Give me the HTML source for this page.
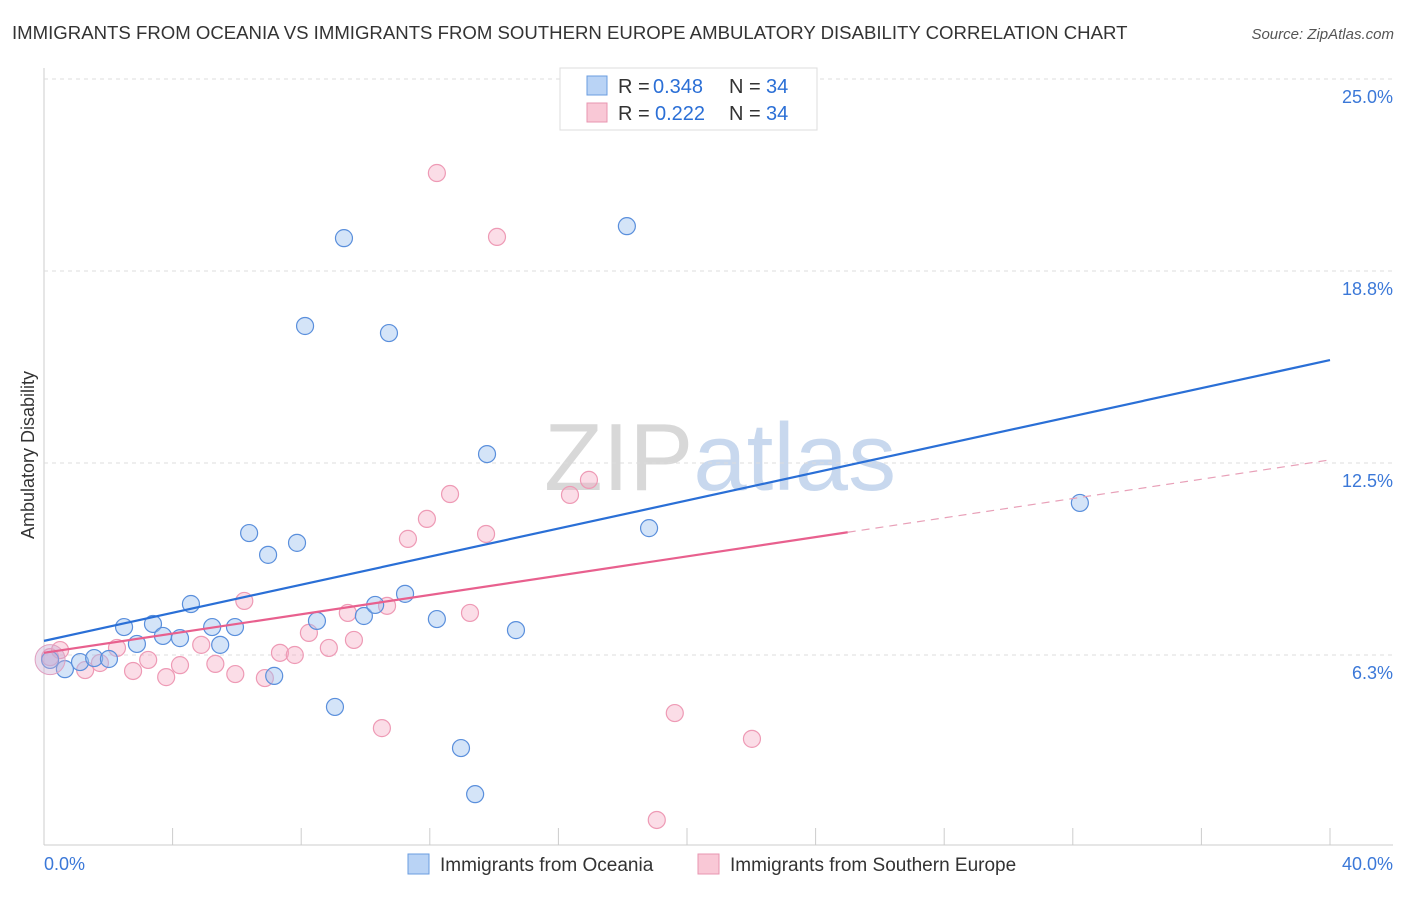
<!DOCTYPE html>
<html><head><meta charset="utf-8"><style>
body{margin:0;background:#fff;font-family:"Liberation Sans",sans-serif;overflow:hidden;}
svg text{font-family:"Liberation Sans",sans-serif;}
</style></head><body>
<svg id="c" width="1406" height="892">
<text x="12" y="39" font-size="18.6" fill="#333">IMMIGRANTS FROM OCEANIA VS IMMIGRANTS FROM SOUTHERN EUROPE AMBULATORY DISABILITY CORRELATION CHART</text>
<text x="1394" y="39" font-size="15" fill="#555" font-style="italic" text-anchor="end">Source: ZipAtlas.com</text>
<text x="720" y="490" font-size="96" fill="#ddd" text-anchor="middle" font-family="Liberation Serif"><tspan fill="#d8d8d8">ZIP</tspan><tspan fill="#c8d8ee" font-family="Liberation Sans">atlas</tspan></text>
<text transform="translate(34,455) rotate(-90)" font-size="18" fill="#333" text-anchor="middle">Ambulatory Disability</text>
<g id="grid"></g><g id="pts"></g><g id="lines"></g>
<g>
<rect x="560" y="68" width="257" height="62" fill="#fff" stroke="#ddd"/>
<rect x="587" y="76" width="20" height="19" fill="#b9d3f5" stroke="#6a9de0"/>
<rect x="587" y="103" width="20" height="19" fill="#f9c8d6" stroke="#e896b0"/>
<text x="618" y="93" font-size="20" fill="#333">R =</text>
<text x="653" y="93" font-size="20" fill="#2b6fd6">0.348</text>
<text x="729" y="93" font-size="20" fill="#333">N =</text>
<text x="766" y="93" font-size="20" fill="#2b6fd6">34</text>
<text x="618" y="120" font-size="20" fill="#333">R =</text>
<text x="655" y="120" font-size="20" fill="#2b6fd6">0.222</text>
<text x="729" y="120" font-size="20" fill="#333">N =</text>
<text x="766" y="120" font-size="20" fill="#2b6fd6">34</text>
</g>
<g>
<rect x="408" y="854" width="21" height="20" fill="#b9d3f5" stroke="#6a9de0"/>
<text x="440" y="871" font-size="19" fill="#333">Immigrants from Oceania</text>
<rect x="698" y="854" width="21" height="20" fill="#f9c8d6" stroke="#e896b0"/>
<text x="730" y="871" font-size="19" fill="#333">Immigrants from Southern Europe</text>
</g>
</svg>
<script>
const yTicks=[6.25,12.5,18.75,25];
const yTickLabels=["6.3%","12.5%","18.8%","25.0%"];
const blueX=[0.19,0.65,1.12,1.56,2.02,2.49,2.89,3.39,3.7,4.23,4.57,5.23,5.48,5.94,6.38,6.97,7.16,7.87,8.12,8.49,9.05,9.33,9.95,10.3,10.73,11.23,12.22,12.97,13.41,13.78,14.68,18.13,18.82,32.22];
const blueY=[6.09,5.79,6.02,6.15,6.12,7.16,6.61,7.26,6.87,6.80,7.91,7.16,6.58,7.16,10.22,9.51,5.57,9.90,16.96,7.36,4.56,19.82,7.52,7.88,16.73,8.24,7.42,3.22,1.72,12.79,7.06,20.21,10.38,11.2];
const pinkX=[0.19,0.5,1.28,1.74,2.27,2.77,3.24,3.8,4.23,4.89,5.33,5.95,6.23,6.87,7.34,7.8,8.24,8.86,9.45,9.64,10.51,10.67,11.32,11.91,12.22,12.63,13.25,13.75,14.09,16.36,16.95,19.06,19.62,22.02];
const pinkY=[6.18,6.41,5.76,5.99,6.48,5.73,6.09,5.53,5.92,6.58,5.96,5.63,8.01,5.50,6.32,6.25,6.97,6.48,7.62,6.74,3.87,7.85,10.03,10.68,21.94,11.49,7.62,10.19,19.86,11.46,11.95,0.88,4.36,3.52];
const blueLine=[6.71,15.85];
const pinkLine=[6.32,12.6];
const pinkSolidEnd=25;
const X=v=>44+v/40*1286, Y=v=>847-v/25*768;
const NS="http://www.w3.org/2000/svg";
function mk(t,a,p){const e=document.createElementNS(NS,t);for(const k in a)e.setAttribute(k,a[k]);p.appendChild(e);return e;}
const grid=document.getElementById('grid');
mk('line',{x1:44,y1:68,x2:44,y2:845,stroke:'#ccc'},grid);
mk('line',{x1:44,y1:845,x2:1393,y2:845,stroke:'#ccc'},grid);
yTicks.forEach((t,i)=>{
 const g=mk('line',{x1:44,y1:Y(t),x2:1393,y2:Y(t),stroke:'#ddd','stroke-dasharray':'4,4'},grid);
 
 
 const tx=mk('text',{x:1393,y:Y(t)+24,'font-size':18,fill:'#3b78d8','text-anchor':'end'},grid);
 tx.textContent=yTickLabels[i];
 
 
});
for(let i=0;i<=10;i++){const l=mk('line',{x1:X(i*4),y1:828,x2:X(i*4),y2:845,stroke:'#ccc'},grid);
 
 }
const xl=mk('text',{x:44,y:870,'font-size':18,fill:'#3b78d8'},grid);xl.textContent='0.0%';


const xr=mk('text',{x:1393,y:870,'font-size':18,fill:'#3b78d8','text-anchor':'end'},grid);xr.textContent='40.0%';


const pts=document.getElementById('pts');
pinkX.forEach((x,i)=>{const c=mk('circle',{cx:X(x),cy:Y(pinkY[i]),r:8.5,fill:'rgba(244,170,195,0.4)',stroke:'#ee9ab5','stroke-width':1.2},pts);
 
 });
blueX.forEach((x,i)=>{const c=mk('circle',{cx:X(x),cy:Y(blueY[i]),r:8.5,fill:'rgba(160,195,240,0.45)',stroke:'#5a8fdc','stroke-width':1.2},pts);
 
 });
const big=mk('circle',{cx:X(0.19),cy:Y(6.1),r:15,fill:'rgba(200,170,210,0.4)',stroke:'#e0a0c0'},pts);


const lines=document.getElementById('lines');
const bl=mk('line',{x1:X(0),y1:Y(blueLine[0]),x2:X(40),y2:Y(blueLine[1]),stroke:'#2a6fd6','stroke-width':2.2},lines);


const pe=pinkLine[0]+(pinkLine[1]-pinkLine[0])*pinkSolidEnd/40;
const pl=mk('line',{x1:X(0),y1:Y(pinkLine[0]),x2:X(pinkSolidEnd),y2:Y(pe),stroke:'#e8608e','stroke-width':2.2},lines);


const pd=mk('line',{x1:X(pinkSolidEnd),y1:Y(pe),x2:X(40),y2:Y(pinkLine[1]),stroke:'#e8a0b8','stroke-width':1.2,'stroke-dasharray':'8,6'},lines);


</script>
</body></html>
